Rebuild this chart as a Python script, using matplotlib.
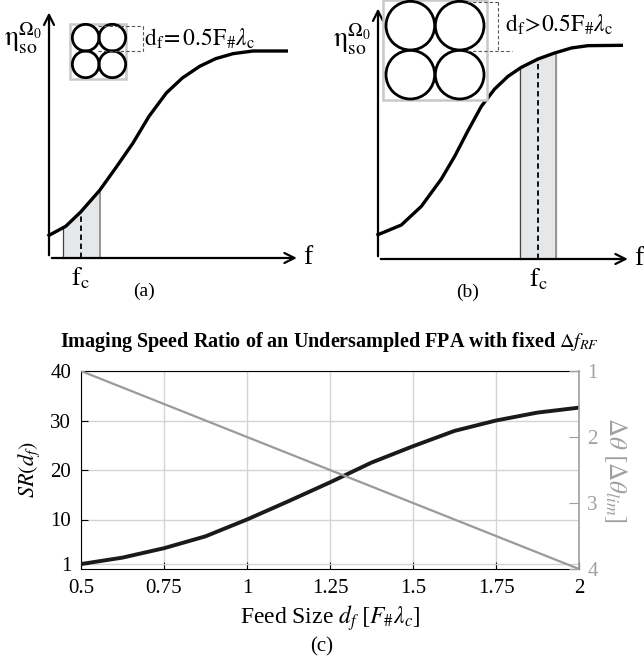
import matplotlib
matplotlib.use("Agg")
import matplotlib.pyplot as plt
from matplotlib.patches import Circle, Rectangle
import numpy as np

plt.rcParams["font.family"] = ["Liberation Serif", "DejaVu Serif"]
plt.rcParams["mathtext.fontset"] = "stix"

# --- panel (a)/(b): schematic efficiency curves (arbitrary units) ---
freq_a = [0.0, 0.5, 0.95, 1.52, 2.0, 2.52, 3.0, 3.52, 4.0, 4.52, 5.0, 5.52, 6.12, 7.12]
eta_a = [0.68, 0.95, 1.38, 2.03, 2.70, 3.45, 4.25, 4.95, 5.40, 5.75, 5.98, 6.13, 6.21, 6.21]
band_a = [0.42, 0.95, 1.52]          # f_low, f_c, f_high

freq_b = [0.0, 0.7, 1.3, 1.9, 2.3, 2.7, 3.1, 3.5, 3.9, 4.3, 4.8, 5.3, 5.8, 6.3, 7.3]
eta_b = [0.73, 1.02, 1.58, 2.40, 3.08, 3.85, 4.58, 5.10, 5.48, 5.75, 6.00, 6.18, 6.33, 6.40, 6.41]
band_b = [4.25, 4.80, 5.35]

# --- panel (c) ---
feed_size = [0.5, 0.625, 0.75, 0.875, 1.0, 1.125, 1.25, 1.375, 1.5, 1.625, 1.75, 1.875, 2.0]
speed_ratio = [1.0, 2.3, 4.2, 6.6, 10.0, 13.7, 17.5, 21.5, 24.8, 27.9, 30.0, 31.6, 32.6]
step_feed = [0.5, 2.0]
step_ratio = [1.0, 4.0]
xticks_c = [0.5, 0.75, 1, 1.25, 1.5, 1.75, 2]
xtick_labels = ["0.5", "0.75", "1", "1.25", "1.5", "1.75", "2"]

fig = plt.figure(figsize=(6.44, 6.59), dpi=100)
W, H = 644, 659
px = 100 / 3.0  # pixels per schematic unit


def schematic(ax_rect, x0, y0, freq, eta, band, opt, dtext, panel):
    l, t, w, h = ax_rect
    ax = fig.add_axes([l / W, 1 - (t + h) / H, w / W, h / H])
    ax.set_xlim((l - x0) / px, (l + w - x0) / px)
    ax.set_ylim((y0 - t - h) / px, (y0 - t) / px)
    ax.axis("off")
    # axes arrows
    ax.annotate("", xy=(opt["xend"], 0), xytext=(0, 0),
                arrowprops=dict(arrowstyle="->", lw=1.6, color="k", mutation_scale=18))
    ax.annotate("", xy=(0, opt["yend"]), xytext=(0, 0),
                arrowprops=dict(arrowstyle="->", lw=1.6, color="k", mutation_scale=18))
    # band under the curve
    fl, fc, fh = band
    fx = [fl] + [f for f in freq if fl < f < fh] + [fh]
    fy = list(np.interp(fx, freq, eta))
    ax.fill_between(fx, 0, fy, color="#e6e7e9", zorder=1)
    ax.plot([fl, fl], [0, fy[0]], color="#444444", lw=0.9, zorder=2)
    ax.plot([fh, fh], [0, fy[-1]], color="#888888", lw=1.2, zorder=2)
    ax.plot([fc, fc], [0, np.interp(fc, freq, eta)], color="k", lw=1.3,
            ls=(0, (3, 2)), zorder=3)
    ax.plot(freq, eta, color="k", lw=2.4, zorder=4)
    # inset of feeds
    bx0, by0, bx1, by1 = opt["box"]
    ax.add_patch(Rectangle((bx0, by0), bx1 - bx0, by1 - by0, fc="white",
                           ec="#c8c8c8", lw=1.8, zorder=5))
    for cx, cy in opt["centers"]:
        ax.add_patch(Circle((cx, cy), opt["r"], fc="none", ec="k", lw=2.0, zorder=6))
    dxs, dx1, dxb, dyt, dyb = opt["dash"]
    dash = dict(color="#555555", lw=0.8, ls=(0, (3, 2)), zorder=6)
    ax.plot([dxs, dx1], [dyt, dyt], **dash)
    ax.plot([dxs, dxb], [dyb, dyb], **dash)
    ax.plot([dx1, dx1], [dyt, dyb], **dash)
    ax.text(opt["tx"], opt["ty"], dtext, fontsize=17, va="center", ha="left")
    ax.text(-0.2, opt["ylab_y"], r"$\mathrm{\eta_{so}^{\Omega_0}}$", fontsize=20,
            ha="right", va="center")
    ax.text(opt["xend"] + 0.12, 0.02, "f", fontsize=20, va="center", ha="left")
    ax.text(fc, -0.22, r"$\mathrm{f_c}$", fontsize=19, va="top", ha="center")
    ax.text(opt["panel_x"], -1.0, panel, fontsize=14, va="center", ha="center")
    return ax


schematic((0, 0, 322, 305), 49, 258, freq_a, eta_a, band_a,
          dict(xend=7.52, yend=7.45, box=(0.62, 5.38, 2.32, 7.03),
               centers=[(1.10, 6.61), (1.90, 6.61), (1.10, 5.81), (1.90, 5.81)], r=0.40,
               dash=(1.47, 2.82, 2.82, 6.95, 6.21), tx=2.85, ty=6.56,
               ylab_y=6.6, panel_x=2.85),
          r"$\mathrm{d_f\!=0.5F_{\#}}\lambda_\mathrm{c}$", "(a)")

schematic((322, 0, 322, 305), 378, 259, freq_b, eta_b, band_b,
          dict(xend=7.58, yend=7.6, box=(0.15, 4.77, 3.27, 7.77),
               centers=[(0.97, 7.0), (2.45, 7.0), (0.97, 5.53), (2.45, 5.53)], r=0.73,
               dash=(2.67, 3.6, 4.02, 7.7, 6.25), tx=3.81, ty=7.02,
               ylab_y=6.6, panel_x=2.7),
          r"$\mathrm{d_f\!>\!0.5F_{\#}}\lambda_\mathrm{c}$", "(b)")

# --- panel (c) ---
ax = fig.add_axes([81 / W, 1 - 569 / H, 498 / W, 198 / H])
ax.plot(feed_size, speed_ratio, color="#1a1a1a", lw=2.8, zorder=4)
ax.set_xlim(0.5, 2)
ax.set_ylim(0, 40)
ax.set_xticks(xticks_c)
ax.set_xticklabels(xtick_labels)
ax.set_yticks([1, 10, 20, 30, 40])
ax.grid(True, color="#d4d4d4", lw=1.0)
ax.tick_params(direction="in", labelsize=15, length=5, pad=7)
ax.set_ylabel(r"$SR(d_f)$", fontsize=16, labelpad=6)
ax.set_xlabel(r"Feed Size $d_f\ [F_{\#}\lambda_c]$", fontsize=17, labelpad=4)
ax.set_title(r"Imaging Speed Ratio of an Undersampled FPA with fixed $\Delta f_{RF}$",
             fontsize=14.5, fontweight="bold", pad=17)
ax.spines["right"].set_visible(False)

ax2 = ax.twinx()
ax2.plot(step_feed, step_ratio, color="#9a9a9a", lw=1.6, zorder=3)
ax2.set_ylim(4, 1)
ax2.set_yticks([1, 2, 3, 4])
ax2.tick_params(direction="in", labelsize=15, length=7, colors="#a0a0a0", pad=6)
ax2.spines["right"].set_color("#a0a0a0")
ax2.spines["right"].set_linewidth(1.2)
for s in ["left", "top", "bottom"]:
    ax2.spines[s].set_visible(False)
ax2.set_ylabel(r"$\Delta\theta\ [\Delta\theta_{lim}]$", fontsize=18, color="#a0a0a0",
               rotation=270, labelpad=22)

fig.text(0.5, 1 - 647 / H, "(c)", fontsize=15, ha="center", va="center")

fig.savefig("out.png", dpi=100)
